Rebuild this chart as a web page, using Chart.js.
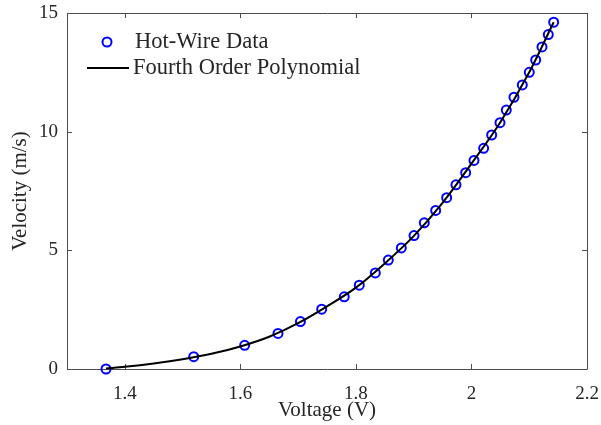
<!DOCTYPE html>
<html>
<head>
<meta charset="utf-8">
<script src="https://cdn.jsdelivr.net/npm/chart.js@4.4.1/dist/chart.umd.min.js"></script>
<style>
  html, body { margin: 0; padding: 0; background: #ffffff; }
  #wrap { width: 601px; height: 425px; position: relative; }
</style>
</head>
<body>
<div id="wrap"><canvas id="chart"></canvas></div>
<script>
// Hot-wire calibration measurements
const voltage = [1.3675, 1.5193, 1.6075, 1.6652, 1.7040, 1.7408, 1.7799, 1.8059, 1.8336, 1.8561,
                 1.8786, 1.9006, 1.9184, 1.9381, 1.9571, 1.9732, 1.9900, 2.0044, 2.0211, 2.0350,
                 2.0494, 2.0603, 2.0736, 2.0880, 2.1001, 2.1112, 2.1221, 2.1330, 2.1423];
const velocity = [0.00, 0.52, 1.00, 1.50, 2.00, 2.52, 3.04, 3.53, 4.05, 4.59,
                  5.10, 5.62, 6.16, 6.68, 7.22, 7.76, 8.27, 8.79, 9.30, 9.86,
                  10.38, 10.91, 11.45, 11.97, 12.50, 13.02, 13.57, 14.09, 14.61];

// Fourth order polynomial calibration curve, sampled
const fitVoltage  = [1.3675, 1.40, 1.45, 1.50, 1.55, 1.60, 1.65, 1.70, 1.75, 1.80,
                     1.85, 1.90, 1.95, 2.00, 2.05, 2.10, 2.1423];
const fitVelocity = [0.02, 0.09, 0.23, 0.41, 0.64, 0.95, 1.36, 1.93, 2.64, 3.43,
                     4.45, 5.60, 7.00, 8.65, 10.40, 12.50, 14.61];

const xTicks = [1.4, 1.6, 1.8, 2, 2.2];
const yTicks = [0, 5, 10, 15];

const FONT = "'Liberation Serif', 'Times New Roman', serif";
const TEXT = '#262626';
const AXIS = '#4d4d4d';

// Box around the plot area with inward tick marks on all four sides
const boxAxes = {
  id: 'boxAxes',
  beforeDatasetsDraw(chart) {
    const { ctx, chartArea: a, scales: { x, y } } = chart;
    const L = 5;
    ctx.save();
    ctx.strokeStyle = AXIS;
    ctx.lineWidth = 1;
    ctx.beginPath();
    ctx.rect(Math.round(a.left) + 0.5, Math.round(a.top) + 0.5,
             Math.round(a.right - a.left), Math.round(a.bottom - a.top));
    xTicks.forEach(v => {
      const px = Math.round(x.getPixelForValue(v)) + 0.5;
      ctx.moveTo(px, a.bottom); ctx.lineTo(px, a.bottom - L);
      ctx.moveTo(px, a.top);    ctx.lineTo(px, a.top + L);
    });
    yTicks.forEach(v => {
      const py = Math.round(y.getPixelForValue(v)) + 0.5;
      ctx.moveTo(a.left, py);  ctx.lineTo(a.left + L, py);
      ctx.moveTo(a.right, py); ctx.lineTo(a.right - L, py);
    });
    ctx.stroke();
    ctx.restore();
  }
};

// Legend drawn inside the upper-left corner of the plot area
const innerLegend = {
  id: 'innerLegend',
  afterDraw(chart) {
    const { ctx, chartArea: a } = chart;
    const ds = chart.data.datasets;
    ctx.save();
    ctx.font = "22.5px " + FONT;
    ctx.fillStyle = TEXT;
    ctx.textBaseline = 'middle';
    // marker entry
    const y1 = a.top + 29;
    ctx.strokeStyle = ds[0].borderColor;
    ctx.lineWidth = ds[0].borderWidth;
    ctx.beginPath();
    ctx.arc(a.left + 40, y1, ds[0].pointRadius, 0, Math.PI * 2);
    ctx.stroke();
    ctx.fillText(ds[0].label, a.left + 68, y1);
    // line entry
    const y2 = a.top + 55;
    ctx.strokeStyle = ds[1].borderColor;
    ctx.lineWidth = ds[1].borderWidth;
    ctx.beginPath();
    ctx.moveTo(a.left + 20, y2);
    ctx.lineTo(a.left + 62, y2);
    ctx.stroke();
    ctx.fillText(ds[1].label, a.left + 66, y2);
    ctx.restore();
  }
};

new Chart(document.getElementById('chart'), {
  type: 'scatter',
  data: {
    datasets: [
      {
        label: 'Hot-Wire Data',
        data: voltage.map((v, i) => ({ x: v, y: velocity[i] })),
        showLine: false,
        pointStyle: 'circle',
        pointRadius: 4.5,
        pointHoverRadius: 4.5,
        borderColor: '#0000ff',
        backgroundColor: 'rgba(0,0,0,0)',
        borderWidth: 2,
        clip: false,
        order: 1
      },
      {
        label: 'Fourth Order Polynomial',
        type: 'line',
        data: fitVoltage.map((v, i) => ({ x: v, y: fitVelocity[i] })),
        showLine: true,
        pointRadius: 0,
        borderColor: '#000000',
        borderWidth: 2,
        cubicInterpolationMode: 'monotone',
        fill: false,
        clip: false,
        order: 0
      }
    ]
  },
  options: {
    responsive: true,
    maintainAspectRatio: false,
    animation: false,
    events: [],
    layout: { padding: { left: 0, top: 13, right: 14, bottom: 0 } },
    plugins: { legend: { display: false }, tooltip: { enabled: false } },
    scales: {
      x: {
        type: 'linear',
        min: 1.3,
        max: 2.2,
        afterBuildTicks: s => { s.ticks = xTicks.map(v => ({ value: v })); },
        afterFit: s => { s.height = 56; s.paddingLeft = 0; s.paddingRight = 0; },
        grid: { display: false },
        border: { display: false },
        ticks: {
          autoSkip: false, maxRotation: 0, padding: 6,
          color: TEXT, font: { family: FONT, size: 19 },
          callback: v => String(v)
        },
        title: {
          display: true, text: 'Voltage (V)', color: TEXT,
          font: { family: FONT, size: 21 }, padding: { top: 0, bottom: 2 }
        }
      },
      y: {
        type: 'linear',
        min: 0,
        max: 15,
        afterBuildTicks: s => { s.ticks = yTicks.map(v => ({ value: v })); },
        afterFit: s => { s.width = 67; s.paddingTop = 0; s.paddingBottom = 0; },
        grid: { display: false },
        border: { display: false },
        ticks: {
          autoSkip: false, padding: 1,
          color: TEXT, font: { family: FONT, size: 19 },
          callback: v => String(v)
        },
        title: {
          display: true, text: 'Velocity (m/s)', color: TEXT,
          font: { family: FONT, size: 21 }, padding: { top: 8, bottom: 4 }
        }
      }
    }
  },
  plugins: [boxAxes, innerLegend]
});
</script>
</body>
</html>
